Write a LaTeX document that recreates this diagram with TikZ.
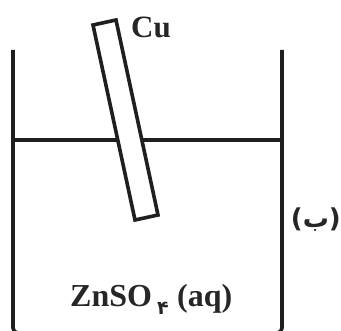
\documentclass[tikz,border=0pt]{standalone}
\usepackage{fontspec}
\setmainfont{Liberation Serif}
\newfontfamily\arabicfont[Script=Arabic]{DejaVu Sans}
\TeXXeTstate=1
\tikzset{ink/.style={draw=black!88,line width=3.6pt,line join=miter},
lab/.style={font=\bfseries\fontsize{32}{35}\selectfont,text=black!85,inner sep=0pt,anchor=base west}}
\begin{document}
\begin{tikzpicture}[x=1pt,y=-1pt]
\useasboundingbox (0,0) rectangle (341,331);
\coordinate (bl) at (13,50);
\coordinate (blc) at (13,333);
\coordinate (ble) at (18,333);
\coordinate (br) at (282,50);
\coordinate (brc) at (282,333);
\coordinate (bre) at (277,333);
\coordinate (wl) at (13,140);
\coordinate (wr) at (282,140);
\draw[ink,rounded corners=5pt] (bl) -- (blc) -- (ble);
\draw[ink,rounded corners=5pt] (br) -- (brc) -- (bre);
\draw[ink] (wl) -- (wr);
\draw[ink,fill=white] (93,25) -- (116,20) -- (158,215) -- (135,220) -- cycle;
\node[lab,font=\bfseries\fontsize{31}{34}\selectfont] (cu) at (131,38) {Cu};
\node[lab] (zn) at (70,307) {ZnSO};
\node[lab,font=\arabicfont\bfseries\fontsize{19}{22}\selectfont] (four) at (157,315) {\beginR ۴\endR};
\node[lab] (aq) at (177,307) {(aq)};
\node[lab,font=\arabicfont\bfseries\fontsize{26}{30}\selectfont,anchor=base east] (be) at (341,228) {\beginR (ب)\endR};
\end{tikzpicture}
\end{document}
